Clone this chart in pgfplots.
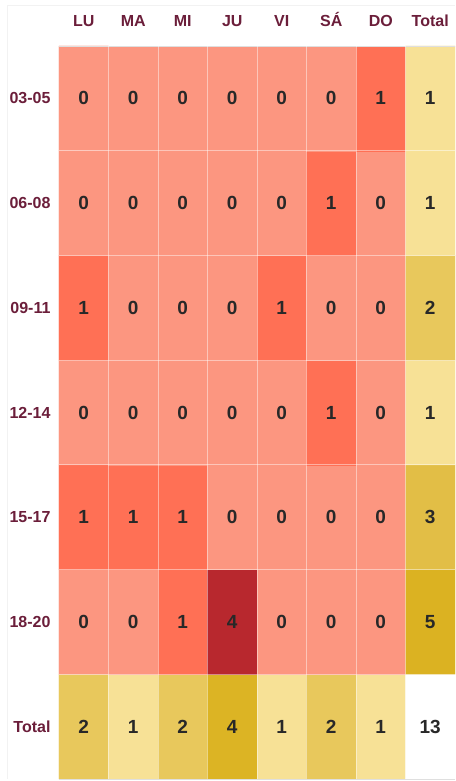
\documentclass[border=0pt]{standalone}
\usepackage{pgfplots}
\pgfplotsset{compat=1.18}
\usepackage{pgfplotstable}
\usepackage{fontspec}
\setmainfont{Liberation Sans}
\definecolor{b0}{RGB}{252,150,128}
\definecolor{b1}{RGB}{255,112,85}
\definecolor{b4}{RGB}{184,40,46}
\definecolor{t1}{RGB}{247,225,150}
\definecolor{t2}{RGB}{232,200,92}
\definecolor{t3}{RGB}{226,190,70}
\definecolor{t4}{RGB}{220,180,36}
\definecolor{t5}{RGB}{219,178,34}
\definecolor{hdr}{RGB}{107,30,58}
\definecolor{num}{RGB}{40,40,40}
\pgfplotstableread{
x y c v
0 0 color=t2 2
1 0 color=t1 1
2 0 color=t2 2
3 0 color=t4 4
4 0 color=t1 1
5 0 color=t2 2
6 0 color=t1 1
7 0 color=white 13
0 1 color=b0 0
1 1 color=b0 0
2 1 color=b1 1
3 1 color=b4 4
4 1 color=b0 0
5 1 color=b0 0
6 1 color=b0 0
7 1 color=t5 5
0 2 color=b1 1
1 2 color=b1 1
2 2 color=b1 1
3 2 color=b0 0
4 2 color=b0 0
5 2 color=b0 0
6 2 color=b0 0
7 2 color=t3 3
0 3 color=b0 0
1 3 color=b0 0
2 3 color=b0 0
3 3 color=b0 0
4 3 color=b0 0
5 3 color=b1 1
6 3 color=b0 0
7 3 color=t1 1
0 4 color=b1 1
1 4 color=b0 0
2 4 color=b0 0
3 4 color=b0 0
4 4 color=b1 1
5 4 color=b0 0
6 4 color=b0 0
7 4 color=t2 2
0 5 color=b0 0
1 5 color=b0 0
2 5 color=b0 0
3 5 color=b0 0
4 5 color=b0 0
5 5 color=b1 1
6 5 color=b0 0
7 5 color=t1 1
0 6 color=b0 0
1 6 color=b0 0
2 6 color=b0 0
3 6 color=b0 0
4 6 color=b0 0
5 6 color=b0 0
6 6 color=b1 1
7 6 color=t1 1
}\cells
\begin{document}
\begin{tikzpicture}
\begin{axis}[
  name=ax,
  scale only axis,
  width=396pt, height=733pt,
  xmin=-0.5, xmax=7.5, ymin=-0.5, ymax=6.5,
  xtick={0,...,7},
  xticklabels={LU,MA,MI,JU,VI,SÁ,DO,Total},
  xticklabel pos=right,
  ytick={0,...,6},
  yticklabels={Total,18-20,15-17,12-14,09-11,06-08,03-05},
  xticklabel style={anchor=base, yshift=19pt, font=\bfseries\fontsize{16}{16}\selectfont, text=hdr},
  yticklabel style={anchor=east, xshift=-5pt, font=\bfseries\fontsize{16}{16}\selectfont, text=hdr},
  major tick length=0pt,
  axis line style={draw=none},
  minor xtick={0.5,1.5,...,6.5},
  minor ytick={0.5,1.5,...,5.5},
  minor tick length=0pt,
  xminorgrids, yminorgrids,
  minor grid style={white, opacity=0.45, line width=0.8pt},
  axis on top,
]
\addplot[matrix plot*, mesh/cols=8, mesh/color input=explicit, point meta=explicit symbolic, draw=none] table[x=x, y=y, meta=c] {\cells};
\addplot[draw=none, mark=none, nodes near coords, point meta=explicit symbolic,
  nodes near coords style={anchor=center, text=num, font=\bfseries\fontsize{19}{19}\selectfont}]
  table[x=x, y=y, meta=v] {\cells};
\draw[gray!25, line width=0.8pt] (axis cs:-0.5,6.5) -- (axis cs:7.5,6.5);
\draw[gray!25, line width=0.8pt] (axis cs:-0.5,-0.5) -- (axis cs:7.5,-0.5);
\end{axis}
\draw[gray!10, line width=0.7pt] ([xshift=-52pt,yshift=41pt]ax.north west) -- ([yshift=41pt]ax.north east);
\draw[gray!10, line width=0.7pt] ([xshift=-52pt,yshift=41pt]ax.north west) -- ([xshift=-52pt]ax.south west);
\pgfresetboundingbox
\useasboundingbox ([xshift=-59pt,yshift=-2pt]ax.south west) rectangle ([yshift=46pt]ax.north east);
\end{tikzpicture}
\end{document}
